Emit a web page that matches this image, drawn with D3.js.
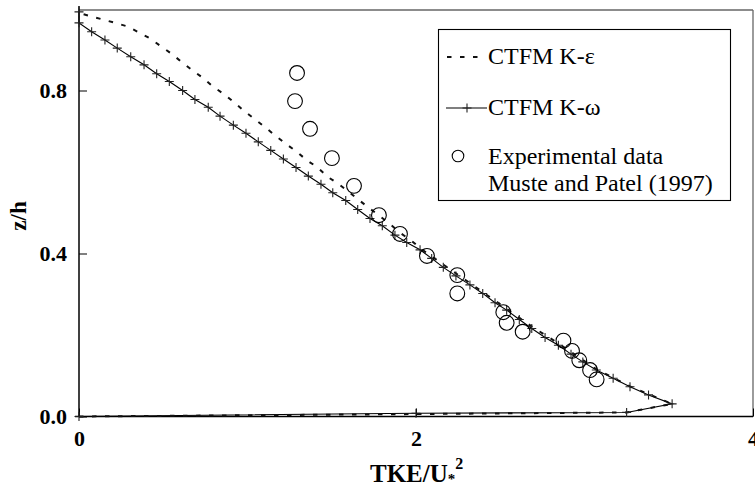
<!DOCTYPE html>
<html><head><meta charset="utf-8">
<script src="https://cdn.jsdelivr.net/npm/d3@7"></script>
<style>body{margin:0;background:#fff}svg{display:block}</style>
</head><body>
<script>
// ---- data ----
const xTicks = [0, 2, 4];
const yTicks = [0.0, 0.4, 0.8];
const xTickLabels = ["0", "2", "4"];
const yTickLabels = ["0.0", "0.4", "0.8"];

// CTFM K-omega (TKE/U*^2, z/h)
const kwX = [0, 2.0, 3.25, 3.52, 3.38, 3.27, 3.17, 3.07, 2.99, 2.92, 2.845, 2.766, 2.687, 2.613, 2.538, 2.469, 2.396, 2.32, 2.237, 2.162, 2.093, 2.024, 1.945, 1.875, 1.80, 1.727, 1.654, 1.583, 1.506, 1.436, 1.361, 1.288, 1.213, 1.138, 1.064, 0.991, 0.916, 0.837, 0.767, 0.688, 0.615, 0.536, 0.461, 0.386, 0.307, 0.227, 0.154, 0.075, 0, 0];
const kwZ = [0, 0.008, 0.010, 0.031, 0.053, 0.073, 0.094, 0.114, 0.134, 0.153, 0.175, 0.194, 0.216, 0.238, 0.261, 0.279, 0.302, 0.323, 0.345, 0.366, 0.388, 0.409, 0.427, 0.445, 0.468, 0.486, 0.508, 0.530, 0.549, 0.570, 0.590, 0.611, 0.632, 0.653, 0.674, 0.695, 0.715, 0.737, 0.759, 0.778, 0.800, 0.822, 0.841, 0.863, 0.883, 0.904, 0.924, 0.944, 0.966, 0.993];

// CTFM K-epsilon
const keX = [0, 2.0, 3.25, 3.52, 3.27, 3.07, 2.85, 2.69, 2.47, 2.30, 2.158, 2.099, 2.034, 1.974, 1.905, 1.846, 1.782, 1.723, 1.662, 1.598, 1.539, 1.476, 1.414, 1.351, 1.292, 1.228, 1.169, 1.104, 1.045, 0.985, 0.926, 0.861, 0.797, 0.738, 0.675, 0.615, 0.550, 0.491, 0.421, 0.358, 0.289, 0.214, 0.135, 0.053, 0];
const keZ = [0, 0.006, 0.010, 0.031, 0.074, 0.116, 0.178, 0.220, 0.284, 0.333, 0.374, 0.391, 0.410, 0.431, 0.451, 0.472, 0.493, 0.511, 0.531, 0.552, 0.571, 0.588, 0.612, 0.629, 0.650, 0.669, 0.688, 0.710, 0.729, 0.748, 0.769, 0.791, 0.809, 0.830, 0.849, 0.868, 0.890, 0.907, 0.928, 0.942, 0.957, 0.966, 0.975, 0.984, 0.990];

// Experimental data, Muste and Patel (1997)
const expX = [1.294, 1.282, 1.371, 1.501, 1.632, 1.780, 1.905, 2.065, 2.245, 2.245, 2.518, 2.538, 2.633, 2.875, 2.926, 2.969, 3.033, 3.072];
const expZ = [0.843, 0.774, 0.706, 0.634, 0.566, 0.494, 0.448, 0.394, 0.347, 0.302, 0.256, 0.230, 0.208, 0.186, 0.161, 0.138, 0.114, 0.091];

const legendLabels = ["CTFM K-\u03b5", "CTFM K-\u03c9", "Experimental data", "Muste and Patel (1997)"];

// ---- drawing ----
const W = 755, H = 486;
const FF = '"Liberation Serif"';
const svg = d3.select("body").append("svg").attr("width", W).attr("height", H);
const x = d3.scaleLinear().domain([0, 4]).range([79, 753]);
const y = d3.scaleLinear().domain([0, 1]).range([416.5, 9]);

function boldText(sel, size) {
  sel.style("font-family", FF).style("font-size", size + "px").style("font-weight", "bold")
    .attr("fill", "#000");
}

// frame (top/right)
svg.append("line").attr("x1", x(0)).attr("x2", x(4)).attr("y1", 10).attr("y2", 10)
  .attr("stroke", "#666").attr("stroke-width", 1.3);
svg.append("line").attr("x1", x(4)).attr("x2", x(4)).attr("y1", 10).attr("y2", y(0))
  .attr("stroke", "#666").attr("stroke-width", 1.3);

// axes
const xAxis = d3.axisBottom(x).tickValues(xTicks).tickSizeInner(-8).tickSizeOuter(0)
  .tickFormat((d, i) => xTickLabels[i]).tickPadding(14);
const gx = svg.append("g").attr("transform", `translate(0,${y(0)})`).call(xAxis);
gx.attr("font-family", FF);
gx.select(".domain").attr("stroke", "#000").attr("stroke-width", 1.5).attr("d", `M75,0H${x(4)}`);
gx.selectAll("text").call(boldText, 22).attr("dy", "0.71em");

const yAxis = d3.axisLeft(y).tickValues(yTicks).tickSizeInner(-8).tickSizeOuter(0)
  .tickFormat((d, i) => yTickLabels[i]).tickPadding(12);
const gy = svg.append("g").attr("transform", `translate(${x(0)},0)`).call(yAxis);
gy.attr("font-family", FF);
gy.select(".domain").attr("stroke", "#000").attr("stroke-width", 1.5).attr("d", `M0,6V${y(0)}`);
gy.selectAll("text").call(boldText, 22);
svg.selectAll(".tick line").attr("stroke", "#000");

// axis titles
const xt = svg.append("text").attr("x", 370).attr("y", 482).call(boldText, 25);
xt.append("tspan").text("TKE/U");
xt.append("tspan").text("*").style("font-size", "15px").attr("dy", 2);
xt.append("tspan").text("2").style("font-size", "16px").attr("dy", -15);

svg.append("text").attr("transform", "translate(26,216) rotate(-90)").attr("text-anchor", "middle")
  .call(boldText, 23).text("z/h");

// curves
const line = d3.line().x(d => x(d[0])).y(d => y(d[1]));
const kw = kwX.map((v, i) => [v, kwZ[i]]);
const ke = keX.map((v, i) => [v, keZ[i]]);
const ex = expX.map((v, i) => [v, expZ[i]]);

svg.append("path").attr("d", line(kw)).attr("fill", "none").attr("stroke", "#000").attr("stroke-width", 1.1);
svg.append("path").attr("d", line(ke)).attr("fill", "none").attr("stroke", "#111")
  .attr("stroke-width", 2).attr("stroke-dasharray", "4.5,8.5");

svg.append("g").selectAll("path").data(kw).join("path")
  .attr("transform", d => `translate(${x(d[0])},${y(d[1])})`)
  .attr("d", "M-4.5,0H4.5M0,-4.5V4.5").attr("stroke", "#222").attr("stroke-width", 1.1).attr("fill", "none");

svg.append("g").selectAll("circle").data(ex).join("circle")
  .attr("cx", d => x(d[0])).attr("cy", d => y(d[1])).attr("r", 7.4)
  .attr("fill", "none").attr("stroke", "#000").attr("stroke-width", 1.1);

// legend
const lg = svg.append("g");
lg.append("rect").attr("x", 438.5).attr("y", 29.5).attr("width", 292).attr("height", 171)
  .attr("fill", "#fff").attr("stroke", "#000").attr("stroke-width", 1.1);
lg.append("line").attr("x1", 447).attr("x2", 481).attr("y1", 57).attr("y2", 57)
  .attr("stroke", "#111").attr("stroke-width", 2).attr("stroke-dasharray", "4.5,8.5");
lg.append("line").attr("x1", 446).attr("x2", 487).attr("y1", 108).attr("y2", 108)
  .attr("stroke", "#000").attr("stroke-width", 1.1);
lg.append("path").attr("transform", "translate(467,108)").attr("d", "M-4.5,0H4.5M0,-4.5V4.5")
  .attr("stroke", "#222").attr("stroke-width", 1.1);
lg.append("circle").attr("cx", 458).attr("cy", 156).attr("r", 5.8)
  .attr("fill", "none").attr("stroke", "#000").attr("stroke-width", 1.1);
const ly = [64, 115, 164, 191];
lg.selectAll("text.lt").data(legendLabels).join("text").attr("class", "lt")
  .attr("x", 488).attr("y", (d, i) => ly[i]).style("font-family", FF).style("font-size", "24px")
  .attr("fill", "#000").text(d => d);
</script>
</body></html>
